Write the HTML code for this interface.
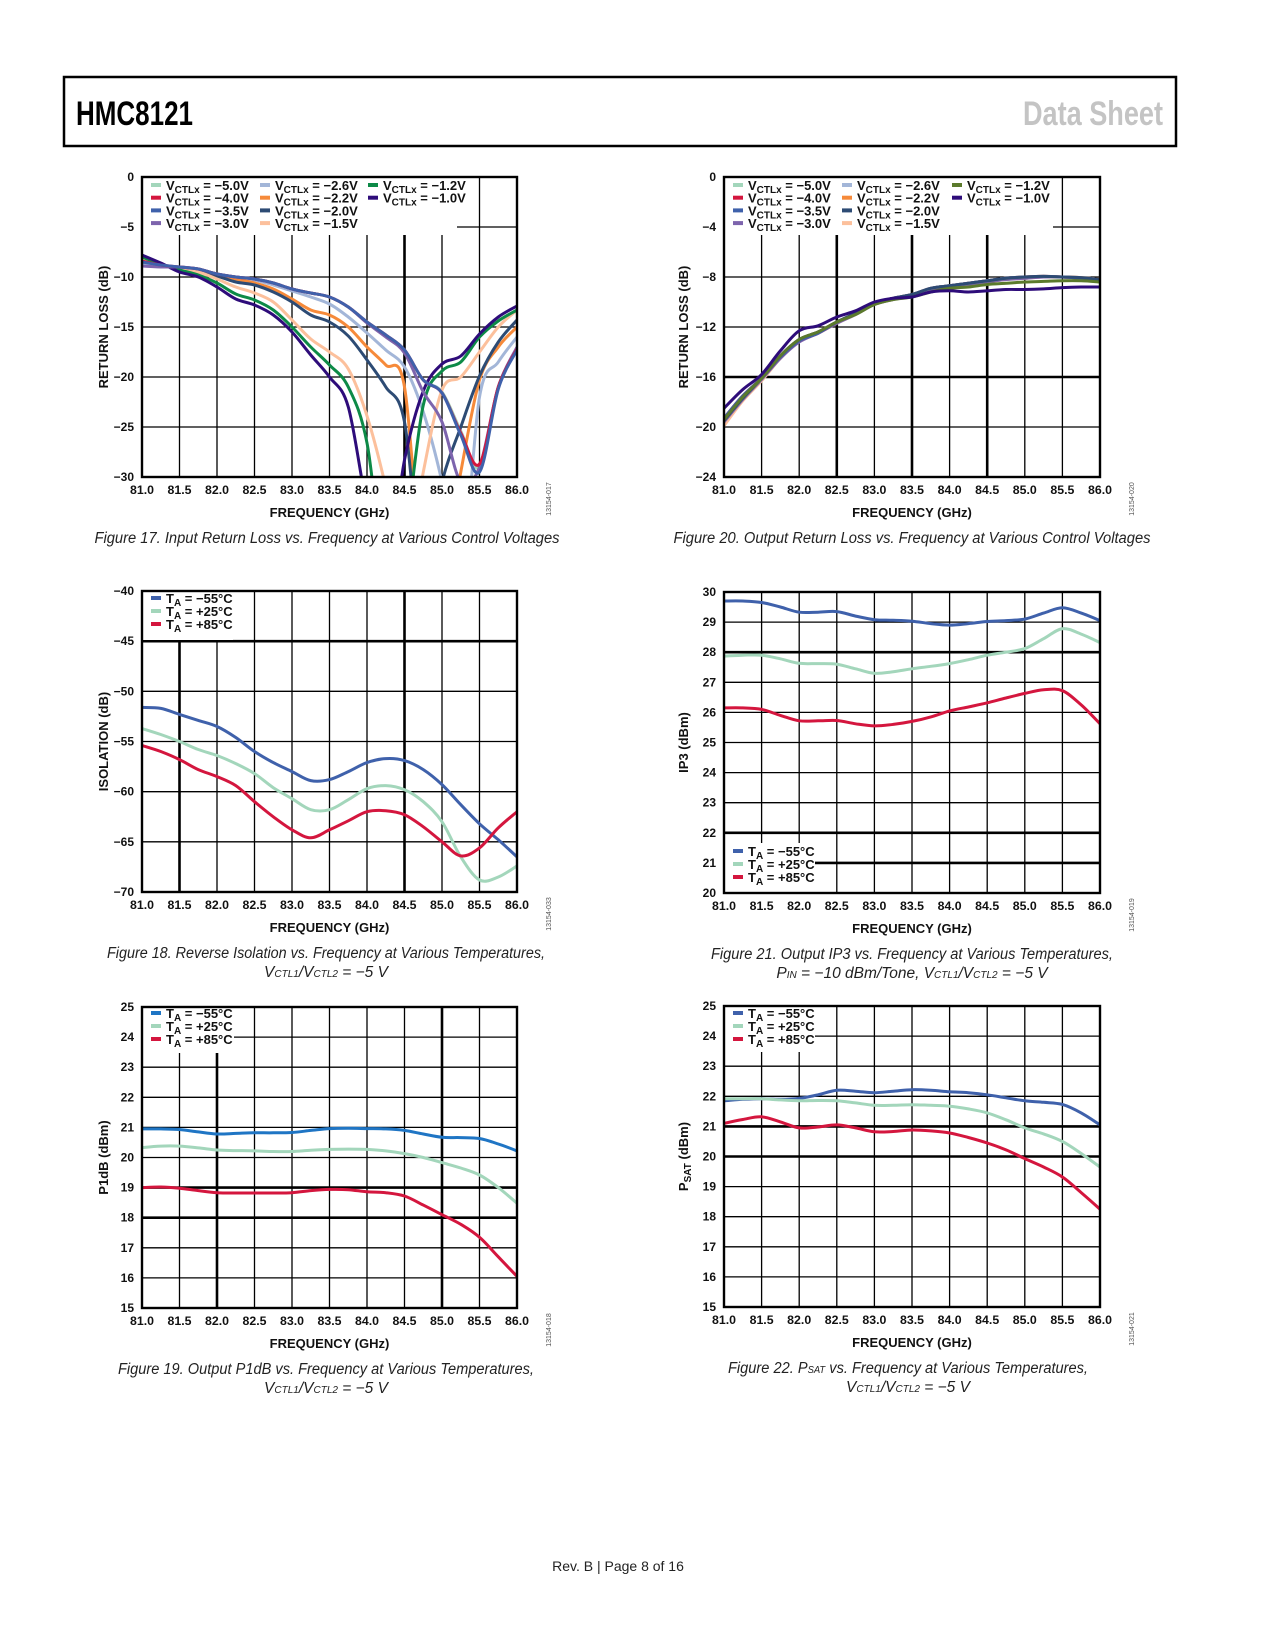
<!DOCTYPE html>
<html><head><meta charset="utf-8">
<style>
html,body{margin:0;padding:0;background:#fff;}
svg{display:block;}
text{font-family:"Liberation Sans",sans-serif;}
</style></head>
<body>
<svg id="page" xmlns="http://www.w3.org/2000/svg" width="1275" height="1650" viewBox="0 0 1275 1650">
<rect x="0" y="0" width="1275" height="1650" fill="#fff"/>
<rect x="64" y="77" width="1112" height="69" fill="none" stroke="#000" stroke-width="2.5"/>
<text x="76" y="125" font-size="34" font-weight="bold" textLength="117" lengthAdjust="spacingAndGlyphs" fill="#000">HMC8121</text>
<text x="1023" y="125" font-size="34" font-weight="bold" textLength="140" lengthAdjust="spacingAndGlyphs" fill="#c4c4c4">Data Sheet</text>
<text x="618" y="1571" font-size="14" text-anchor="middle" fill="#222">Rev. B | Page 8 of 16</text>
<g id="charts"></g>
</svg>
<script>
// Shared category axis (frequency in GHz)
const freqs = [81,81.25,81.5,81.75,82,82.25,82.5,82.75,83,83.25,83.5,83.75,84,84.25,84.5,84.75,85,85.25,85.5,85.75,86];
const xTickLabels = ["81.0","81.5","82.0","82.5","83.0","83.5","84.0","84.5","85.0","85.5","86.0"];
const xTickValues = [81,81.5,82,82.5,83,83.5,84,84.5,85,85.5,86];

// Figure 17: input return loss
const in_m50 = [-8.6,-8.9,-9.0,-9.2,-9.7,-10.0,-10.2,-10.6,-11.2,-11.6,-12.0,-13.0,-14.5,-15.8,-17.3,-20.3,-21.5,-25.4,-29.0,-21.0,-17.1];
const in_m40 = [-8.4,-8.8,-9.0,-9.2,-9.7,-10.0,-10.2,-10.6,-11.2,-11.6,-12.0,-13.0,-14.5,-15.8,-17.3,-20.3,-21.6,-25.6,-28.7,-21.0,-17.2];
const in_m35 = [-8.5,-8.8,-9.0,-9.2,-9.7,-10.0,-10.2,-10.6,-11.2,-11.6,-12.0,-13.0,-14.5,-15.8,-17.3,-20.3,-21.6,-25.8,-29.5,-21.2,-17.3];
const in_m30 = [-8.9,-9.0,-9.0,-9.2,-9.7,-10.0,-10.2,-10.6,-11.2,-11.6,-12.0,-13.0,-14.6,-16.0,-17.6,-21.5,-24.5,-30.5,-29.0,-21.0,-17.0];
const in_m26 = [-8.8,-8.9,-9.0,-9.2,-9.7,-10.0,-10.3,-10.8,-11.4,-12.0,-12.7,-14.0,-15.6,-17.3,-19.0,-23.5,-30.5,-40,-22.0,-18.5,-16.0];
const in_m22 = [-8.3,-8.8,-9.1,-9.3,-9.7,-10.2,-10.6,-11.2,-12.2,-13.3,-13.8,-15.0,-17.0,-18.8,-21.0,-40,-40,-29.5,-20.3,-17.0,-15.0];
const in_m20 = [-8.0,-8.8,-9.2,-9.5,-9.9,-10.5,-10.8,-11.5,-12.5,-13.8,-14.5,-15.9,-18.3,-21.0,-24.5,-40,-30.5,-25.0,-19.9,-16.5,-14.3];
const in_m15 = [-8.3,-8.8,-9.2,-9.5,-10.2,-11.0,-11.6,-12.5,-14.3,-16.2,-17.5,-19.2,-23.9,-31,-40,-29.5,-21.3,-20.0,-17.5,-15.0,-13.3];
const in_m12 = [-8.0,-8.7,-9.3,-9.8,-10.6,-11.7,-12.3,-13.3,-15.0,-17.0,-18.8,-21.0,-26.6,-40,-36,-22.8,-19.4,-18.5,-16.0,-14.4,-13.3];
const in_m10 = [-7.8,-8.6,-9.5,-10.0,-11.0,-12.2,-12.8,-13.8,-15.5,-17.8,-20.0,-23.0,-33,-40,-28.3,-21.4,-18.7,-17.9,-15.7,-14.0,-12.9];

// Figure 20: output return loss
const out_main = [-19.5,-17.7,-16.1,-14.3,-13.0,-12.4,-11.6,-10.9,-10.1,-9.7,-9.4,-8.9,-8.7,-8.5,-8.3,-8.1,-8.0,-7.95,-8.0,-8.05,-8.2];
const out_m50 = [-19.4,-17.6,-16.0,-14.3,-13.0,-12.4,-11.6,-10.9,-10.1,-9.7,-9.4,-8.9,-8.7,-8.5,-8.3,-8.1,-8.0,-7.95,-8.0,-8.1,-8.3];
const out_m40 = [-19.3,-17.5,-16.1,-14.4,-13.1,-12.5,-11.6,-10.9,-10.1,-9.7,-9.4,-8.9,-8.7,-8.5,-8.3,-8.1,-8.0,-7.95,-8.0,-8.1,-8.3];
const out_m30 = [-19.6,-17.8,-16.2,-14.5,-13.2,-12.5,-11.7,-11.0,-10.2,-9.8,-9.5,-9.0,-8.8,-8.7,-8.4,-8.2,-8.1,-8.0,-8.0,-8.1,-8.3];
const out_m15 = [-19.9,-17.9,-16.3,-14.5,-13.1,-12.5,-11.7,-11.0,-10.2,-9.8,-9.5,-9.0,-8.8,-8.6,-8.4,-8.2,-8.1,-8.0,-8.0,-8.05,-8.2];
const out_m12 = [-19.4,-17.6,-16.1,-14.3,-13.0,-12.4,-11.6,-11.0,-10.2,-9.8,-9.6,-9.2,-8.9,-8.8,-8.6,-8.5,-8.4,-8.35,-8.3,-8.3,-8.4];
const out_m10 = [-18.5,-17.0,-15.8,-13.9,-12.3,-11.9,-11.2,-10.7,-10.0,-9.7,-9.6,-9.2,-9.1,-9.2,-9.1,-9.0,-9.0,-8.95,-8.85,-8.8,-8.8];

// Figure 18: reverse isolation
const iso_m55 = [-51.6,-51.7,-52.3,-52.9,-53.5,-54.6,-56.0,-57.1,-58.0,-58.9,-58.8,-58.0,-57.1,-56.7,-56.9,-57.8,-59.3,-61.3,-63.2,-64.8,-66.5];
const iso_p25 = [-53.7,-54.3,-55.0,-55.8,-56.4,-57.2,-58.2,-59.6,-60.7,-61.8,-61.8,-60.8,-59.7,-59.4,-59.8,-61.0,-63.0,-66.5,-68.8,-68.5,-67.4];
const iso_p85 = [-55.4,-56.0,-56.8,-57.8,-58.5,-59.4,-61.0,-62.5,-63.8,-64.6,-63.8,-62.9,-62.0,-61.9,-62.3,-63.5,-65.0,-66.4,-65.6,-63.6,-62.0];

// Figure 21: output IP3
const ip3_m55 = [29.7,29.7,29.65,29.5,29.33,29.33,29.35,29.2,29.08,29.06,29.03,28.95,28.9,28.95,29.02,29.05,29.1,29.3,29.48,29.3,29.05];
const ip3_p25 = [27.87,27.9,27.9,27.78,27.63,27.62,27.6,27.45,27.3,27.35,27.45,27.53,27.62,27.75,27.9,28.0,28.12,28.45,28.78,28.6,28.32];
const ip3_p85 = [26.15,26.15,26.1,25.9,25.72,25.72,25.73,25.62,25.55,25.6,25.7,25.85,26.05,26.18,26.32,26.48,26.63,26.75,26.72,26.25,25.62];

// Figure 19: P1dB
const p1_m55 = [20.95,20.95,20.93,20.85,20.78,20.8,20.82,20.82,20.83,20.9,20.96,20.97,20.96,20.95,20.9,20.78,20.67,20.66,20.63,20.45,20.22];
const p1_p25 = [20.33,20.38,20.38,20.32,20.25,20.23,20.22,20.2,20.2,20.24,20.27,20.28,20.27,20.22,20.13,20.0,19.83,19.65,19.42,19.0,18.48];
const p1_p85 = [19.0,19.02,18.98,18.9,18.83,18.82,18.82,18.82,18.83,18.9,18.94,18.93,18.86,18.83,18.72,18.42,18.1,17.78,17.35,16.7,16.05];

// Figure 22: PSAT
const ps_m55 = [21.85,21.9,21.92,21.9,21.93,22.05,22.2,22.17,22.12,22.17,22.22,22.2,22.15,22.12,22.05,21.95,21.85,21.8,21.73,21.45,21.05];
const ps_p25 = [21.92,21.92,21.92,21.88,21.85,21.86,21.85,21.78,21.7,21.7,21.72,21.7,21.67,21.58,21.45,21.22,20.95,20.75,20.5,20.1,19.65];
const ps_p85 = [21.1,21.23,21.32,21.15,20.95,20.98,21.05,20.95,20.82,20.83,20.88,20.85,20.78,20.63,20.45,20.22,19.93,19.65,19.32,18.8,18.25];

const NS = "http://www.w3.org/2000/svg";
const root = document.getElementById('charts');
let clipId = 0;
function mk(tag, attrs, parent){
  const e = document.createElementNS(NS, tag);
  for (const k in attrs) e.setAttribute(k, attrs[k]);
  (parent||root).appendChild(e);
  return e;
}
function smoothPath(pts){
  let d = "M" + pts[0][0].toFixed(1) + "," + pts[0][1].toFixed(1);
  for (let i=0;i<pts.length-1;i++){
    const p0=pts[i-1]||pts[i], p1=pts[i], p2=pts[i+1], p3=pts[i+2]||p2;
    const c1x=p1[0]+(p2[0]-p0[0])/6, c1y=p1[1]+(p2[1]-p0[1])/6;
    const c2x=p2[0]-(p3[0]-p1[0])/6, c2y=p2[1]-(p3[1]-p1[1])/6;
    d += " C"+c1x.toFixed(1)+","+c1y.toFixed(1)+" "+c2x.toFixed(1)+","+c2y.toFixed(1)+" "+p2[0].toFixed(1)+","+p2[1].toFixed(1);
  }
  return d;
}
function legendLabel(parent, x, y, main, sub, rest, fs){
  const t = mk('text', {x:x, y:y, 'font-size':fs, 'font-weight':'bold', fill:'#111'}, parent);
  
  
  t.appendChild(document.createTextNode(main));
  const s = mk('tspan', {'font-size':fs-3, dy:3}, t);
  s.textContent = sub;
  const r = mk('tspan', {dy:-3}, t);
  r.textContent = rest;
}

function chart(c){
  const g = mk('g', {});
  
  
  const xs = v => c.L + (v-81)/5*(c.R-c.L);
  const ys = v => c.T + (c.y0 - v)/(c.y0 - c.y1)*(c.B-c.T);
  xTickValues.forEach((v,i)=>{
    const thick = c.thickX.indexOf(v) >= 0;
    const ln = mk('line', {x1:xs(v), x2:xs(v), y1:c.T, y2:c.B, stroke:'#000', 'stroke-width': thick?2.6:1.3}, g);
    
    
    const t = mk('text', {x:xs(v), y:c.B+17, 'font-size':12, 'font-weight':'bold', 'text-anchor':'middle', fill:'#111', textLength:24, lengthAdjust:'spacingAndGlyphs'}, g);
    
    
    t.textContent = xTickLabels[i];
  });
  c.yTicks.forEach((v,i)=>{
    const thick = c.thickY.indexOf(v) >= 0;
    const ln = mk('line', {x1:c.L, x2:c.R, y1:ys(v), y2:ys(v), stroke:'#000', 'stroke-width': thick?2.6:1.3}, g);
    
    
    const t = mk('text', {x:c.L-8, y:ys(v)+4, 'font-size':12, 'font-weight':'bold', 'text-anchor':'end', fill:'#111'}, g);
    
    
    t.textContent = c.yTickLabels[i];
  });
  const lb = mk('rect', {x:c.leg.x, y:c.leg.y, width:c.leg.w, height:c.leg.h, fill:'#fff'}, g);
  
  
  clipId++;
  const cp = mk('clipPath', {id:'cp'+clipId}, g);
  mk('rect', {x:c.L, y:c.T, width:c.R-c.L, height:c.B-c.T}, cp);
  c.series.forEach(s=>{
    const pts = freqs.map((f,i)=>[xs(f), ys(s.data[i])]);
    const p = mk('path', {d:smoothPath(pts), fill:'none', stroke:s.color, 'stroke-width':3, 'stroke-linejoin':'round', 'clip-path':'url(#cp'+clipId+')'}, g);
    
    
  });
  c.legend.forEach(it=>{
    const sw = mk('rect', {x:it.x, y:it.y-5, width:10, height:4, fill:it.color}, g);
    
    
    legendLabel(g, it.x+15, it.y+2, it.main, it.sub, it.rest, 13);
  });
  const b = mk('rect', {x:c.L, y:c.T, width:c.R-c.L, height:c.B-c.T, fill:'none', stroke:'#000', 'stroke-width':2.4}, g);
  
  
  const xt = mk('text', {x:(c.L+c.R)/2, y:c.B+40, 'font-size':13, 'font-weight':'bold', 'text-anchor':'middle', fill:'#111'}, g);
  
  
  xt.textContent = 'FREQUENCY (GHz)';
  const cy = (c.T+c.B)/2;
  const yt = mk('text', {x:c.yTitleX, y:cy, 'font-size':13, 'font-weight':'bold', 'text-anchor':'middle', fill:'#111', transform:'rotate(-90 '+c.yTitleX+' '+cy+')'}, g);
  
  
  yt.textContent = c.yTitle;
  if (c.yTitleSub){
    const ts = mk('tspan', {'font-size':10, dy:3}, yt); ts.textContent = c.yTitleSub;
    const tr = mk('tspan', {dy:-3}, yt); tr.textContent = c.yTitleRest;
  }
  const fx = c.R+34, fy = c.B+22;
  const fid = mk('text', {x:fx, y:fy, 'font-size':7, 'text-anchor':'middle', fill:'#555', transform:'rotate(-90 '+fx+' '+fy+')'}, g);
  
  
  fid.textContent = c.fid;
  const cx = c.capX;
  const c1 = mk('text', {x:cx, y:c.B+66, 'font-size':15.5, 'font-style':'italic', 'text-anchor':'middle', fill:'#222', textLength:c.capW, lengthAdjust:'spacingAndGlyphs'}, g);
  
  
  c.cap1.forEach(part=>{
    const sp = mk('tspan', part[1]?{'font-size':10}:{}, c1); sp.textContent = part[0];
  });
  if (c.cap2){
    const c2 = mk('text', {x:cx, y:c.B+85, 'font-size':15.5, 'font-style':'italic', 'text-anchor':'middle', fill:'#222'}, g);
    
    
    c.cap2.forEach(part=>{
      const sp = mk('tspan', part[1]?{'font-size':10}:{}, c2); sp.textContent = part[0];
    });
  }
}

const vcolors = {m50:'#a3d6bb', m40:'#d4163e', m35:'#3f61ab', m30:'#7d64ad', m26:'#a3b6d8', m22:'#f68a3a', m20:'#2d4b74', m15:'#fcc09c', m12:'#0d8a47', m10:'#2e0c7a'};
function vLegend(x0, y0, colX, c12){
  const labels = [['m50','−5.0V'],['m40','−4.0V'],['m35','−3.5V'],['m30','−3.0V'],['m26','−2.6V'],['m22','−2.2V'],['m20','−2.0V'],['m15','−1.5V'],['m12','−1.2V'],['m10','−1.0V']];
  return labels.map((l,i)=>{
    const col = i<4?0:(i<8?1:2), row = i<4?i:(i<8?i-4:i-8);
    return {x:x0+colX[col], y:y0+row*12.7, color: (l[0]==='m12'&&c12)?c12:vcolors[l[0]], main:'V', sub:'CTLx', rest:' = '+l[1]};
  });
}
function tLegend(x0, y0, c55){
  return [['−55°C',c55||'#3f61ab'],['+25°C','#a3d6bb'],['+85°C','#d4163e']].map((l,i)=>({x:x0, y:y0+i*13, color:l[1], main:'T', sub:'A', rest:' = '+l[0]}));
}

chart({name:'chart-input-return-loss', L:142,R:517,T:177,B:477, y0:0,y1:-30,
  yTicks:[0,-5,-10,-15,-20,-25,-30], yTickLabels:['0','−5','−10','−15','−20','−25','−30'],
  thickX:[84.5], thickY:[], leg:{x:143,y:178,w:314,h:57}, yTitle:'RETURN LOSS (dB)', yTitleX:108,
  series:[{key:'vctl-5.0',data:in_m50,color:vcolors.m50},{key:'vctl-2.6',data:in_m26,color:vcolors.m26},{key:'vctl-2.2',data:in_m22,color:vcolors.m22},{key:'vctl-2.0',data:in_m20,color:vcolors.m20},{key:'vctl-1.5',data:in_m15,color:vcolors.m15},{key:'vctl-1.2',data:in_m12,color:vcolors.m12},{key:'vctl-1.0',data:in_m10,color:vcolors.m10},{key:'vctl-3.0',data:in_m30,color:vcolors.m30},{key:'vctl-4.0',data:in_m40,color:vcolors.m40},{key:'vctl-3.5',data:in_m35,color:vcolors.m35}],
  legend:vLegend(151,188,[0,109,217]), fid:'13154-017', capX:327, capW:465,
  cap1:[['Figure 17. Input Return Loss vs. Frequency at Various Control Voltages']]});

chart({name:'chart-output-return-loss', L:724,R:1100,T:177,B:477, y0:0,y1:-24,
  yTicks:[0,-4,-8,-12,-16,-20,-24], yTickLabels:['0','−4','−8','−12','−16','−20','−24'],
  thickX:[82.5,83.5,84.5], thickY:[-16], leg:{x:725,y:178,w:328,h:57}, yTitle:'RETURN LOSS (dB)', yTitleX:688,
  series:[{key:'vctl-5.0',data:out_m50,color:vcolors.m50},{key:'vctl-1.5',data:out_m15,color:vcolors.m15},{key:'vctl-3.0',data:out_m30,color:vcolors.m30},{key:'vctl-4.0',data:out_m40,color:vcolors.m40},{key:'vctl-2.6',data:out_main,color:vcolors.m26},{key:'vctl-2.2',data:out_main,color:vcolors.m22},{key:'vctl-3.5',data:out_m40,color:vcolors.m35},{key:'vctl-2.0',data:out_main,color:vcolors.m20},{key:'vctl-1.2',data:out_m12,color:'#5b7a2c'},{key:'vctl-1.0',data:out_m10,color:vcolors.m10}],
  legend:vLegend(733,188,[0,109,219],'#5b7a2c'), fid:'13154-020', capX:912, capW:477,
  cap1:[['Figure 20. Output Return Loss vs. Frequency at Various Control Voltages']]});

chart({name:'chart-reverse-isolation', L:142,R:517,T:591,B:892, y0:-40,y1:-70,
  yTicks:[-40,-45,-50,-55,-60,-65,-70], yTickLabels:['−40','−45','−50','−55','−60','−65','−70'],
  thickX:[81.5,84.5], thickY:[-45], leg:{x:143,y:592,w:90,h:48}, yTitle:'ISOLATION (dB)', yTitleX:108,
  series:[{key:'ta-minus55',data:iso_m55,color:'#3f61ab'},{key:'ta-plus25',data:iso_p25,color:'#a3d6bb'},{key:'ta-plus85',data:iso_p85,color:'#d4163e'}],
  legend:tLegend(151,601), fid:'13154-033', capX:326, capW:438,
  cap1:[['Figure 18. Reverse Isolation vs. Frequency at Various Temperatures,']],
  cap2:[['V'],['CTL1',1],['/V'],['CTL2',1],[' = −5 V']]});

chart({name:'chart-output-ip3', L:724,R:1100,T:592,B:893, y0:30,y1:20,
  yTicks:[30,29,28,27,26,25,24,23,22,21,20], yTickLabels:['30','29','28','27','26','25','24','23','22','21','20'],
  thickX:[], thickY:[28,22,21], leg:{x:725,y:843,w:90,h:49}, yTitle:'IP3 (dBm)', yTitleX:688,
  series:[{key:'ta-minus55',data:ip3_m55,color:'#3f61ab'},{key:'ta-plus25',data:ip3_p25,color:'#a3d6bb'},{key:'ta-plus85',data:ip3_p85,color:'#d4163e'}],
  legend:tLegend(733,854), fid:'13154-019', capX:912, capW:402,
  cap1:[['Figure 21. Output IP3 vs. Frequency at Various Temperatures,']],
  cap2:[['P'],['IN',1],[' = −10 dBm/Tone, V'],['CTL1',1],['/V'],['CTL2',1],[' = −5 V']]});

chart({name:'chart-output-p1db', L:142,R:517,T:1007,B:1308, y0:25,y1:15,
  yTicks:[25,24,23,22,21,20,19,18,17,16,15], yTickLabels:['25','24','23','22','21','20','19','18','17','16','15'],
  thickX:[82,85], thickY:[19,18], leg:{x:143,y:1008,w:91,h:45}, yTitle:'P1dB (dBm)', yTitleX:108,
  series:[{key:'ta-minus55',data:p1_m55,color:'#1f75c4'},{key:'ta-plus25',data:p1_p25,color:'#a3d6bb'},{key:'ta-plus85',data:p1_p85,color:'#d4163e'}],
  legend:tLegend(151,1016,'#1f75c4'), fid:'13154-018', capX:326, capW:416,
  cap1:[['Figure 19. Output P1dB vs. Frequency at Various Temperatures,']],
  cap2:[['V'],['CTL1',1],['/V'],['CTL2',1],[' = −5 V']]});

chart({name:'chart-psat', L:724,R:1100,T:1006,B:1307, y0:25,y1:15,
  yTicks:[25,24,23,22,21,20,19,18,17,16,15], yTickLabels:['25','24','23','22','21','20','19','18','17','16','15'],
  thickX:[], thickY:[21,20], leg:{x:725,y:1007,w:90,h:45}, yTitle:'P', yTitleSub:'SAT', yTitleRest:' (dBm)', yTitleX:688,
  series:[{key:'ta-minus55',data:ps_m55,color:'#3f61ab'},{key:'ta-plus25',data:ps_p25,color:'#a3d6bb'},{key:'ta-plus85',data:ps_p85,color:'#d4163e'}],
  legend:tLegend(733,1016), fid:'13154-021', capX:908, capW:360,
  cap1:[['Figure 22. P'],['SAT',1],[' vs. Frequency at Various Temperatures,']],
  cap2:[['V'],['CTL1',1],['/V'],['CTL2',1],[' = −5 V']]});
</script>
</body></html>
